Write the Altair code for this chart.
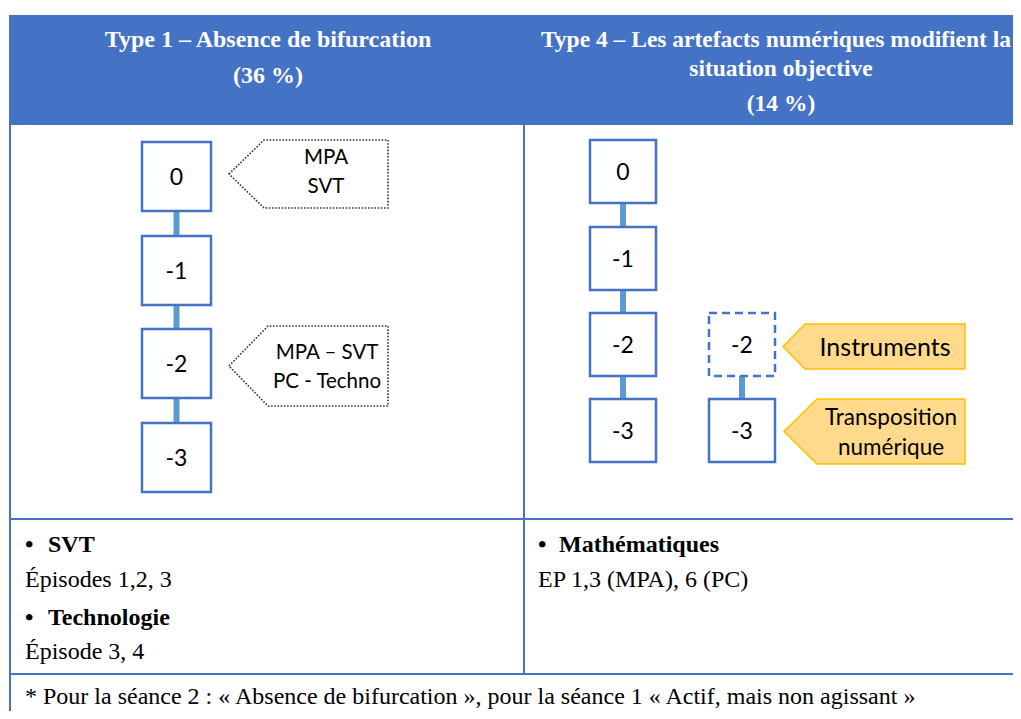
import altair as alt
import pandas as pd

# ---------------- content ----------------
header_left = ["Type 1 – Absence de bifurcation", "(36 %)"]
header_right = ["Type 4 – Les artefacts numériques modifient la", "situation objective", "(14 %)"]

levels_left = ["0", "-1", "-2", "-3"]
levels_right = ["0", "-1", "-2", "-3"]
branch_levels = ["-2", "-3"]
branch_dashed = [True, False]

callouts_left = [["MPA", "SVT"], ["MPA – SVT", "PC - Techno"]]
callouts_right = [["Instruments"], ["Transposition", "numérique"]]

bullets_left = [("SVT", "Épisodes 1,2, 3"), ("Technologie", "Épisode 3, 4")]
bullets_right = [("Mathématiques", "EP 1,3 (MPA), 6 (PC)")]
footnote = "* Pour la séance 2 : « Absence de bifurcation », pour la séance 1 « Actif, mais non agissant »"

# ---------------- layout (page pixel space) ----------------
BLUE = "#4472C4"
LINK = "#5B9BD5"
W, H = 1005, 703
X0, Y0 = 8, 8
xs = alt.Scale(domain=[X0, X0 + W], nice=False, zero=False)
ys = alt.Scale(domain=[Y0, Y0 + H], nice=False, zero=False, reverse=True)

def X(f="x"):
    return alt.X(f"{f}:Q", scale=xs, axis=None)

def Y(f="y"):
    return alt.Y(f"{f}:Q", scale=ys, axis=None)

layers = []

# header band
hdr = pd.DataFrame([{"x": 9, "x2": 1021, "y": 15, "y2": 125}])
layers.append(alt.Chart(hdr).mark_rect(color=BLUE, clip=True).encode(
    x=X(), x2="x2:Q", y=Y(), y2="y2:Q"))

# table lines
lines = pd.DataFrame([
    {"x": 10, "x2": 10, "y": 124, "y2": 719},
    {"x": 524, "x2": 524, "y": 125, "y2": 674},
    {"x": 9, "x2": 1021, "y": 519, "y2": 519},
    {"x": 9, "x2": 1021, "y": 674, "y2": 674},
])
layers.append(alt.Chart(lines).mark_rule(color=BLUE, strokeWidth=2, clip=True).encode(
    x=X(), x2="x2:Q", y=Y(), y2="y2:Q"))

# boxes
rows = []
left_tops = [142, 236, 329, 423]
for lab, t in zip(levels_left, left_tops):
    rows.append({"lab": lab, "x": 142, "x2": 211, "y": t, "y2": t + 69, "dash": False})
right_tops = [140, 227, 313, 399]
for lab, t in zip(levels_right, right_tops):
    rows.append({"lab": lab, "x": 590, "x2": 656, "y": t, "y2": t + 63, "dash": False})
branch_tops = [313, 399]
for lab, t, d in zip(branch_levels, branch_tops, branch_dashed):
    rows.append({"lab": lab, "x": 709, "x2": 775, "y": t, "y2": t + 63, "dash": d})
boxes = pd.DataFrame(rows)
boxes["cx"] = (boxes.x + boxes.x2) / 2
boxes["cy"] = (boxes.y + boxes.y2) / 2 + 1

# connectors
conn = []
def chain(df):
    df = df.reset_index(drop=True)
    for i in range(len(df) - 1):
        conn.append({"x": df.cx[i], "y": df.y2[i], "y2": df.y[i + 1]})
chain(boxes.iloc[0:4]); chain(boxes.iloc[4:8]); chain(boxes.iloc[8:10])
conn = pd.DataFrame(conn)
layers.append(alt.Chart(conn).mark_rule(color=LINK, strokeWidth=6).encode(
    x=X(), y=Y(), y2="y2:Q"))

solid = boxes[~boxes.dash]
dashed = boxes[boxes.dash]
layers.append(alt.Chart(solid).mark_rect(fill="white", stroke=BLUE, strokeWidth=2.5).encode(
    x=X(), x2="x2:Q", y=Y(), y2="y2:Q"))
layers.append(alt.Chart(dashed).mark_rect(fill="white", stroke=BLUE, strokeWidth=2.5,
                                          strokeDash=[8, 5]).encode(
    x=X(), x2="x2:Q", y=Y(), y2="y2:Q"))
layers.append(alt.Chart(boxes).mark_text(font="Lato", fontSize=23, color="black").encode(
    x=X("cx"), y=Y("cy"), text="lab:N"))

# callout pentagons (areas)
def pent(i, tip, body, right, top, bottom):
    mid = (top + bottom) / 2
    return [
        {"id": i, "x": tip, "y": mid, "y2": mid},
        {"id": i, "x": body, "y": top, "y2": bottom},
        {"id": i, "x": right, "y": top, "y2": bottom},
    ]

pl = pd.DataFrame(pent(0, 229, 264, 388, 140, 208) + pent(1, 229, 268, 388, 326, 406))
layers.append(alt.Chart(pl).mark_area(fill="white", stroke="#333333", strokeWidth=1.6,
                                      strokeDash=[1.6, 1.6], interpolate="linear").encode(
    x=X(), y=Y(), y2="y2:Q", detail="id:N"))
pr = pd.DataFrame(pent(0, 783, 805, 965, 324, 369) + pent(1, 784, 817, 965, 399, 464))
layers.append(alt.Chart(pr).mark_area(fill="#FFD98C", stroke="#FFC000", strokeWidth=1.5,
                                      interpolate="linear").encode(
    x=X(), y=Y(), y2="y2:Q", detail="id:N"))

# callout texts
ct = []
for lines_, (cx, ys_) in zip(callouts_left, [(326, [158, 187]), (327, [353, 382])]):
    for t, yy in zip(lines_, ys_):
        ct.append({"t": t, "x": cx, "y": yy, "s": 20.5})
for lines_, (cx, ys_), s in zip(callouts_right, [(885, [348]), (891, [418, 448])], [25, 22.5]):
    for t, yy in zip(lines_, ys_):
        ct.append({"t": t, "x": cx, "y": yy, "s": s})
ct = pd.DataFrame(ct)
for s in sorted(ct.s.unique()):
    layers.append(alt.Chart(ct[ct.s == s]).mark_text(font="Lato", fontSize=float(s), color="black").encode(
        x=X(), y=Y(), text="t:N"))

# header texts
ht_left = pd.DataFrame([{"t": t, "x": 268, "y": yy} for t, yy in zip(header_left, [40, 76])])
ht_right = pd.DataFrame([{"t": t, "x": xx, "y": yy}
                         for t, xx, yy in zip(header_right, [776, 781, 781], [40, 69, 104])])
layers.append(alt.Chart(ht_left).mark_text(font="Liberation Serif", fontSize=24, fontWeight="bold",
                                           color="white").encode(x=X(), y=Y(), text="t:N"))
layers.append(alt.Chart(ht_right).mark_text(font="Liberation Serif", fontSize=23.5, fontWeight="bold",
                                            color="white").encode(x=X(), y=Y(), text="t:N"))

# bottom texts
bb, bt = [], []
ys_left = [(545, 580), (618, 652)]
for (h, sub), (y1, y2) in zip(bullets_left, ys_left):
    bb.append({"t": "•", "x": 25, "y": y1})
    bb.append({"t": h, "x": 48, "y": y1})
    bt.append({"t": sub, "x": 25, "y": y2})
for (h, sub), (y1, y2) in zip(bullets_right, [(545, 580)]):
    bb.append({"t": "•", "x": 538, "y": y1})
    bb.append({"t": h, "x": 559, "y": y1})
    bt.append({"t": sub, "x": 538, "y": y2})
bt.append({"t": footnote, "x": 25, "y": 697})
layers.append(alt.Chart(pd.DataFrame(bb)).mark_text(font="Liberation Serif", fontSize=24,
                                                    fontWeight="bold", align="left",
                                                    color="black").encode(
    x=X(), y=Y(), text="t:N"))
layers.append(alt.Chart(pd.DataFrame(bt)).mark_text(font="Liberation Serif", fontSize=24,
                                                    align="left", color="black").encode(
    x=X(), y=Y(), text="t:N"))

chart = alt.layer(*layers).properties(width=W, height=H, padding=0).configure_view(
    strokeWidth=0)
chart.save("out.html", embed_options={"renderer": "svg", "actions": False})
